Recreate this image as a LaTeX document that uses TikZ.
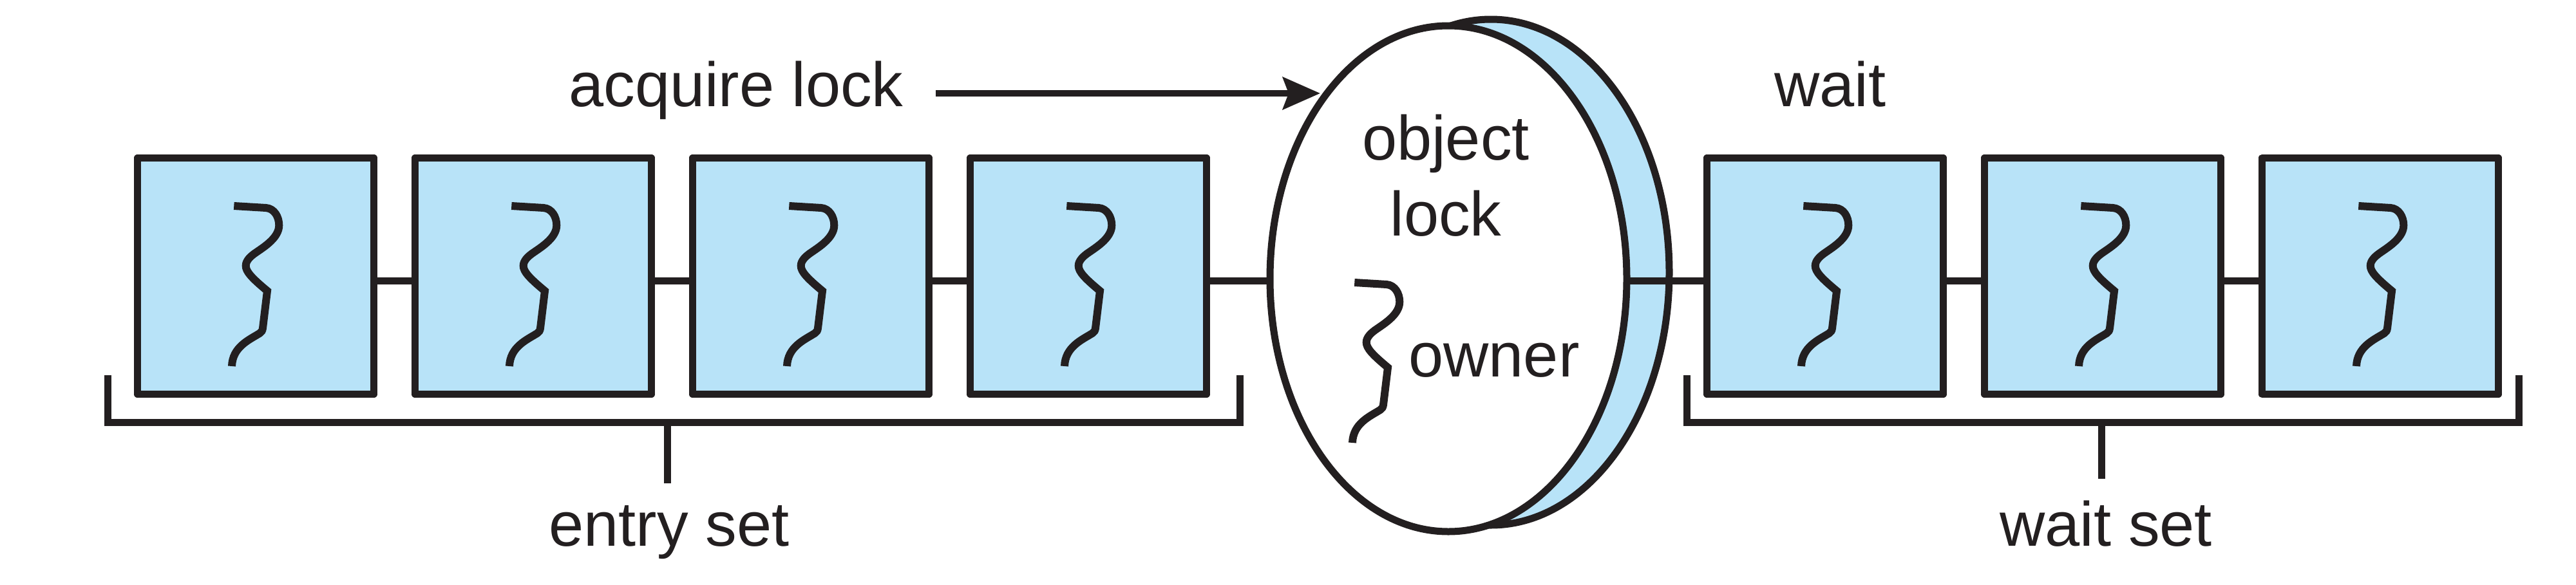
\documentclass[tikz,border=0pt]{standalone}
\usepackage{xcolor}
\usepackage{fontspec}
\setmainfont{Liberation Sans}
\usetikzlibrary{shapes,arrows.meta,positioning,calc}
\definecolor{lockink}{HTML}{231F20}
\definecolor{lockblue}{HTML}{B8E3F8}
\tikzstyle{threadbox} = [rectangle, draw=lockink, line width=1.15mm, line join=round, fill=lockblue,
    minimum size=3.67cm, inner sep=0pt, outer sep=0pt]
\tikzstyle{lockdisc} = [ellipse, draw=lockink, line width=1.1mm, inner sep=0pt, outer sep=0pt,
    minimum width=5.54cm, minimum height=7.86cm]
\tikzstyle{tag} = [text=lockink, font=\fontsize{27.7}{33.5}\selectfont, align=center]
\tikzstyle{link} = [draw=lockink, line width=1.1mm]
\tikzstyle{bracket} = [draw=lockink, line width=1.1mm, line join=miter]
\tikzstyle{arrow} = [-{Stealth[length=5.8mm, width=5mm, inset=0.9mm]}, draw=lockink, fill=lockink, line width=1mm]
\tikzset{thread/.pic={
    \draw[lockink, line width=1.2mm] (-.337,1.09) -- (.16,1.06) .. controls (.29,1.05) and (.363,.92) .. (.363,.79)
        .. controls (.363,.60) and (.14,.46) .. (.01,.37) .. controls (-.08,.31) and (-.153,.24) .. (-.153,.16)
        .. controls (-.153,.07) and (-.06,-.03) .. (.18,-.23) -- (.11,-.81)
        .. controls (.105,-.85) and (.09,-.87) .. (.06,-.89) .. controls (-.1,-.99) and (-.36,-1.1) .. (-.37,-1.40);
}}

\begin{document}
\begin{tikzpicture}[node distance=0.64cm]
\useasboundingbox (0,0) rectangle (40,9.08);

% entry set
\node[threadbox] (entry1) at (3.97,4.79) {};
\node[threadbox, right=of entry1] (entry2) {};
\node[threadbox, right=of entry2] (entry3) {};
\node[threadbox, right=of entry3] (entry4) {};

% object lock
\node[lockdisc, fill=lockblue] (lockback) at (23.15,4.85) {};
\node[lockdisc, fill=white] (lockfront) at (22.49,4.75) {};

% wait set
\node[threadbox] (wait1) at (28.34,4.79) {};
\node[threadbox, right=of wait1] (wait2) {};
\node[threadbox, right=of wait2] (wait3) {};

\pic at (entry1) {thread};
\pic at (entry2) {thread};
\pic at (entry3) {thread};
\pic at (entry4) {thread};
\pic at (wait1) {thread};
\pic at (wait2) {thread};
\pic at (wait3) {thread};
\pic at (21.37,3.60) {thread};

\node[tag, anchor=base, inner sep=0.5cm] (acquire) at (11.43,7.43) {acquire lock};
\node[tag, anchor=base] (waitlabel) at (28.42,7.43) {wait};
\node[tag] (objectlock) at (22.45,6.35) {object\\lock};
\node[tag, anchor=base] (owner) at (23.20,3.23) {owner};
\node[tag, anchor=base, inner sep=0.33cm] (entrylabel) at (10.39,0.60) {entry set};
\node[tag, anchor=base, inner sep=0.33cm] (waitsetlabel) at (32.70,0.60) {wait set};

\coordinate (lockhit) at (20.50,7.63);
\draw[arrow] (acquire.east |- lockhit) -- (lockhit);

\draw[link] ([yshift=-.7mm]entry1.east) -- ([yshift=-.7mm]entry2.west);
\draw[link] ([yshift=-.7mm]entry2.east) -- ([yshift=-.7mm]entry3.west);
\draw[link] ([yshift=-.7mm]entry3.east) -- ([yshift=-.7mm]entry4.west);
\draw[link] ([yshift=-.7mm]entry4.east) -- ([yshift=-.7mm]entry4.east -| lockfront.west);
\draw[link] ([yshift=-.7mm]wait1.west -| lockfront.east) -- ([yshift=-.7mm]wait1.west);
\draw[link] ([yshift=-.7mm]wait1.east) -- ([yshift=-.7mm]wait2.west);
\draw[link] ([yshift=-.7mm]wait2.east) -- ([yshift=-.7mm]wait3.west);

% brackets
\coordinate (entrytl) at (1.67,3.25);
\coordinate (entrybl) at (1.67,2.52);
\coordinate (entrybr) at (19.25,2.52);
\coordinate (entrytr) at (19.25,3.25);
\coordinate (entrytick) at (10.36,2.52);
\draw[bracket] (entrytl) -- (entrybl) -- (entrybr) -- (entrytr);
\draw[bracket] (entrytick) -- (entrytick |- entrylabel.north);

\coordinate (waittl) at (26.19,3.25);
\coordinate (waitbl) at (26.19,2.52);
\coordinate (waitbr) at (39.11,2.52);
\coordinate (waittr) at (39.11,3.25);
\coordinate (waittick) at (32.63,2.52);
\draw[bracket] (waittl) -- (waitbl) -- (waitbr) -- (waittr);
\draw[bracket] (waittick) -- (waittick |- waitsetlabel.north);

\end{tikzpicture}
\end{document}
